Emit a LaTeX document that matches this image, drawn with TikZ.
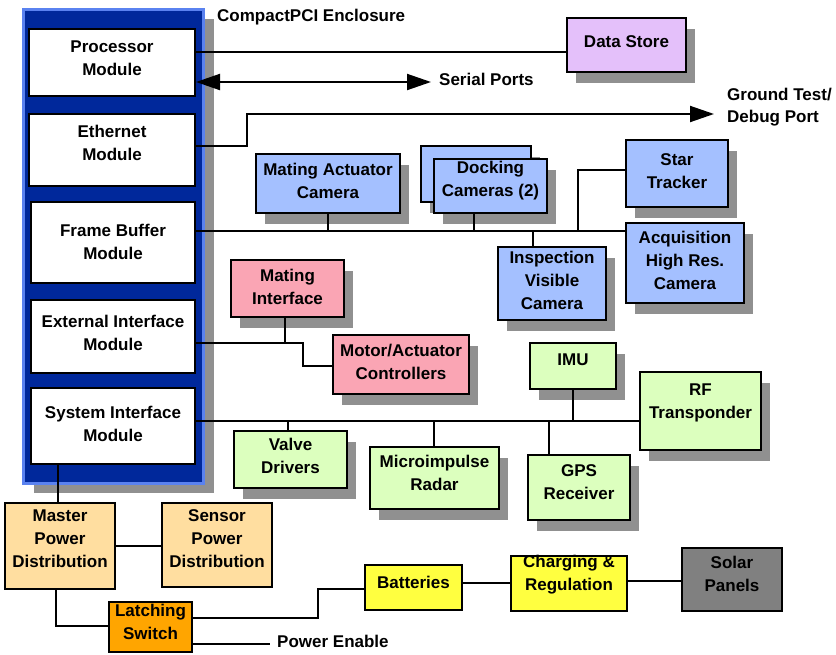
\documentclass[tikz,border=0pt]{standalone}
\usepackage{fontspec}
\setmainfont{Liberation Sans}
\usetikzlibrary{arrows.meta,shadows,calc}
\definecolor{encfill}{RGB}{0,40,155}
\definecolor{encline}{RGB}{90,130,240}
\definecolor{shadowgray}{RGB}{144,144,144}
\definecolor{lav}{RGB}{228,192,250}
\definecolor{cam}{RGB}{164,192,255}
\definecolor{pinkc}{RGB}{250,165,180}
\definecolor{greenc}{RGB}{220,255,190}
\definecolor{tanc}{RGB}{255,222,160}
\definecolor{orangec}{RGB}{255,165,0}
\definecolor{yellowc}{RGB}{255,255,64}
\definecolor{solarc}{RGB}{128,128,128}
\begin{document}
\begin{tikzpicture}[x=1pt,y=-1pt,
  every node/.style={font=\bfseries\fontsize{17}{23}\selectfont, align=center, inner sep=0pt},
  wh/.style 2 args={minimum width=#1pt, minimum height=#2pt},
  box/.style={draw=black, line width=2pt, fill=#1},
  sbox/.style={box=#1, drop shadow={fill=shadowgray, opacity=1, shadow xshift=9pt, shadow yshift=-11pt}},
  conn/.style={line width=2pt},
  tip/.style={line width=2pt},
  lbl/.style={anchor=base west}]
\useasboundingbox (0,0) rectangle (836,654);

% enclosure
\node[draw=encline, line width=3pt, fill=encfill, wh={180}{474},
      drop shadow={fill=shadowgray, opacity=1, shadow xshift=11pt, shadow yshift=-10pt}] (encl) at (113,246) {};
\node[lbl] (encllbl) at (217,21) {CompactPCI Enclosure};

% modules
\node[box=white, wh={166}{67}, label={[yshift=4.5pt]center:Processor\\Module}] (proc) at (112,62.5) {};
\node[box=white, wh={166}{72}, label={[yshift=7pt]center:Ethernet\\Module}] (eth) at (112,150) {};
\node[box=white, wh={164}{81}, label={[yshift=1pt]center:Frame Buffer\\Module}] (fb) at (113,242.5) {};
\node[box=white, wh={164}{73}, label={[yshift=4pt]center:External Interface\\Module}] (ext) at (113,336.5) {};
\node[box=white, wh={164}{76}, label={[yshift=2pt]center:System Interface\\Module}] (sys) at (113,426) {};

% data store
\node[sbox=lav, wh={119}{54}, label={[yshift=3pt]center:Data Store}] (datastore) at (626.5,45) {};

% cameras
\node[sbox=cam, wh={144}{59}, label={[yshift=2.5pt]center:Mating Actuator\\Camera}] (matcam) at (328,183.5) {};
\node[sbox=cam, wh={110}{56}] (dockback) at (476,174) {};
\node[sbox=cam, wh={113}{54}, label={[yshift=5.5pt]center:Docking\\Cameras (2)}] (dock) at (490.5,186) {};
\node[sbox=cam, wh={102}{67}, label={[yshift=2pt]center:Star\\Tracker}] (star) at (677,173.5) {};
\node[sbox=cam, wh={118}{80}, label={[yshift=3pt]center:Acquisition\\High Res.\\Camera}] (acq) at (685,263) {};
\node[sbox=cam, wh={108}{73}, label={[yshift=3.5pt]center:Inspection\\Visible\\Camera}] (insp) at (552,283.5) {};

% mating / motor
\node[sbox=pinkc, wh={113}{57}, label={[yshift=1.5pt]center:Mating\\Interface}] (matif) at (287.5,288.5) {};
\node[sbox=pinkc, wh={136}{59}, label={[yshift=3pt]center:Motor/Actuator\\Controllers}] (motor) at (401,364.5) {};

% system interface devices
\node[sbox=greenc, wh={113}{57}, label={[yshift=3.5pt]center:Valve\\Drivers}] (valve) at (290.5,459.5) {};
\node[sbox=greenc, wh={129}{62}, label={[yshift=5.5pt]center:Microimpulse\\Radar}] (micro) at (434.5,478) {};
\node[sbox=greenc, wh={86}{46}, label={[yshift=6pt]center:IMU}] (imu) at (573,366) {};
\node[sbox=greenc, wh={102}{65}, label={[yshift=5pt]center:GPS\\Receiver}] (gps) at (579,487.5) {};
\node[sbox=greenc, wh={121}{78}, label={[yshift=8.5pt]center:RF\\Transponder}] (rf) at (700.5,411) {};

% power
\node[box=tanc, wh={110}{86}, label={[yshift=7pt]center:Master\\Power\\Distribution}] (master) at (60,546) {};
\node[box=tanc, wh={110}{84}, label={[yshift=6.5pt]center:Sensor\\Power\\Distribution}] (sensor) at (217,545) {};
\node[box=orangec, wh={83}{50}, label={[yshift=5pt]center:Latching\\Switch}] (latch) at (150.5,627) {};
\node[box=yellowc, wh={97}{45}, label={[yshift=5.5pt]center:Batteries}] (batt) at (413.5,587.5) {};
\node[box=yellowc, wh={116}{55}, label={[yshift=8.5pt]center:Charging \&\\Regulation}] (charge) at (569,583.5) {};
\node[box=solarc, wh={100}{63}, label={[yshift=5.5pt]center:Solar\\Panels}] (solar) at (732,579.5) {};

% processor connections
\coordinate (ds) at (400,52);
\draw[conn] (proc.east |- ds) -- (datastore.west |- ds);
\coordinate (sp) at (431,82);
\draw[conn, {Triangle[length=24pt,width=16pt]}-{Triangle[length=24pt,width=16pt]}] (proc.east |- sp) -- (sp);
\node[lbl] (serial) at (439,85) {Serial Ports};

% ethernet
\coordinate (e1) at (247,146);
\coordinate (e2) at (247,114);
\coordinate (gt) at (714,114);
\draw[conn, -{Triangle[length=24pt,width=16pt]}] (eth.east |- e1) -- (e1) -- (e2) -- (gt);
\node[anchor=west, align=left, font=\bfseries\fontsize{17}{22}\selectfont] (gtlbl) at (727,107) {Ground Test/\\Debug Port};

% frame buffer bus
\coordinate (fbj) at (578,231);
\draw[conn] (fb.east |- fbj) -- (acq.west |- fbj);
\draw[conn] (matcam.south) -- (matcam.south |- fbj);
\coordinate (dj) at (474,231);
\draw[conn] (dj |- dock.south) -- (dj);
\coordinate (ij) at (533,231);
\draw[conn] (ij) -- (ij |- insp.north);
\coordinate (sj) at (578,170);
\draw[conn] (fbj) -- (sj) -- (star.west |- sj);

% external interface
\coordinate (x1) at (303,343);
\coordinate (x2) at (303,366);
\coordinate (mj) at (285,343);
\draw[conn] (ext.east |- x1) -- (x1) -- (x2) -- (motor.west |- x2);
\draw[conn] (mj |- matif.south) -- (mj);

% system interface bus
\coordinate (sb) at (300,421);
\draw[conn] (sys.east |- sb) -- (rf.west |- sb);
\coordinate (vj) at (288,421);
\draw[conn] (vj) -- (vj |- valve.north);
\coordinate (rj) at (434,421);
\draw[conn] (rj) -- (rj |- micro.north);
\coordinate (gj) at (549,421);
\draw[conn] (gj) -- (gj |- gps.north);
\coordinate (uj) at (573,421);
\draw[conn] (uj) -- (uj |- imu.south);

% power connections
\coordinate (p1) at (58,480);
\draw[conn] (p1 |- sys.south) -- (p1 |- master.north);
\coordinate (ms) at (140,546);
\draw[conn] (master.east |- ms) -- (sensor.west |- ms);
\coordinate (l1) at (56,626);
\draw[conn] (l1 |- master.south) -- (l1) -- (latch.west |- l1);
\coordinate (b1) at (318,618);
\coordinate (b2) at (318,589);
\draw[conn] (latch.east |- b1) -- (b1) -- (b2) -- (batt.west |- b2);
\coordinate (pe) at (270,644);
\draw[conn] (latch.east |- pe) -- (pe);
\node[lbl] (pelbl) at (277,647) {Power Enable};
\coordinate (c1) at (480,583);
\draw[conn] (batt.east |- c1) -- (charge.west |- c1);
\coordinate (s1) at (650,581);
\draw[conn] (charge.east |- s1) -- (solar.west |- s1);
\end{tikzpicture}
\end{document}
